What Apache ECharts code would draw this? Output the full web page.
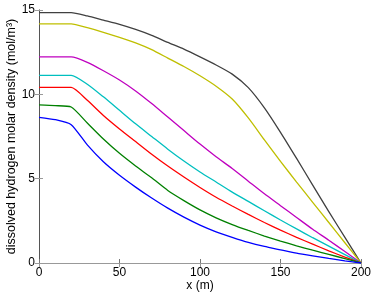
<!DOCTYPE html>
<html><head><meta charset="utf-8">
<script src="https://cdn.jsdelivr.net/npm/echarts@6/dist/echarts.min.js"></script>
<style>html,body{margin:0;padding:0;background:#fff}#c{width:374px;height:294px}</style>
</head><body><div id="c"></div>
<script>
const xPositions  = [0, 10, 20, 30, 40, 50, 60, 70, 80, 90, 100, 110, 120, 130, 140, 150, 160, 170, 180, 190, 200];
const blackVals   = [14.85, 14.85, 14.85, 14.65, 14.40, 14.15, 13.85, 13.50, 13.08, 12.68, 12.22, 11.74, 11.20, 10.40, 9.20, 7.75, 6.20, 4.62, 3.05, 1.52, 0];
const yellowVals  = [14.18, 14.18, 14.18, 13.95, 13.68, 13.38, 13.05, 12.65, 12.15, 11.65, 11.10, 10.48, 9.72, 8.60, 7.30, 6.02, 4.80, 3.60, 2.40, 1.20, 0];
const magentaVals = [12.22, 12.22, 12.22, 11.90, 11.40, 10.85, 10.20, 9.45, 8.65, 7.85, 7.05, 6.30, 5.60, 4.85, 4.10, 3.40, 2.70, 2.00, 1.35, 0.68, 0];
const cyanVals    = [11.12, 11.12, 11.12, 10.60, 9.85, 9.05, 8.25, 7.50, 6.75, 6.05, 5.40, 4.80, 4.20, 3.65, 3.10, 2.55, 2.02, 1.50, 1.00, 0.50, 0];
const redVals     = [10.41, 10.41, 10.41, 9.65, 8.75, 7.95, 7.20, 6.45, 5.75, 5.10, 4.48, 3.90, 3.38, 2.88, 2.40, 1.95, 1.52, 1.12, 0.72, 0.35, 0];
const greenVals   = [9.37, 9.33, 9.25, 8.30, 7.35, 6.50, 5.75, 5.05, 4.30, 3.70, 3.15, 2.68, 2.28, 1.93, 1.60, 1.30, 1.02, 0.76, 0.51, 0.26, 0];
const blueVals    = [8.64, 8.50, 8.20, 7.00, 6.00, 5.20, 4.50, 3.85, 3.25, 2.72, 2.25, 1.85, 1.52, 1.22, 0.98, 0.78, 0.58, 0.42, 0.27, 0.13, 0];
const xTicks = [0, 50, 100, 150, 200];
const yTicks = [0, 5, 10, 15];

const seriesDefs = [
  ['#404040', blackVals], ['#bfbf00', yellowVals], ['#bf00bf', magentaVals],
  ['#00bfbf', cyanVals], ['#ff0000', redVals], ['#008000', greenVals], ['#0000ff', blueVals]
];
const font = 'Liberation Sans, Arial, Helvetica, sans-serif';
const chart = echarts.init(document.getElementById('c'), null, {renderer: 'canvas'});
chart.setOption({
  animation: false,
  grid: {left: 39, right: 13, top: 10, bottom: 31, containLabel: false, outerBoundsMode: 'none'},
  xAxis: [
    {type: 'value', min: 0, max: 200, interval: 50, position: 'bottom',
     axisLine: {show: true, lineStyle: {color: '#222', width: 1}},
     axisTick: {inside: true, length: 4, lineStyle: {color: '#777'}},
     splitLine: {show: false},
     axisLabel: {fontFamily: font, fontSize: 12, color: '#000', margin: 4},
     name: 'x (m)', nameLocation: 'middle', nameGap: 17, nameMoveOverlap: false,
     nameTextStyle: {fontFamily: font, fontSize: 12, color: '#000'}},
    {type: 'value', min: 0, max: 200, interval: 50, position: 'top',
     axisLine: {show: true, lineStyle: {color: '#999', width: 1}},
     axisTick: {inside: true, length: 4, lineStyle: {color: '#999'}},
     axisLabel: {show: false}, splitLine: {show: false}}
  ],
  yAxis: [
    {type: 'value', min: 0, max: 15, interval: 5, position: 'left',
     axisLine: {show: true, lineStyle: {color: '#999', width: 1}},
     axisTick: {inside: true, length: 4, lineStyle: {color: '#999'}},
     splitLine: {show: false},
     axisLabel: {fontFamily: font, fontSize: 12, color: '#000', margin: 4},
     name: 'dissolved hydrogen molar density (mol/m³)', nameLocation: 'middle', nameGap: 21,
     nameMoveOverlap: false,
     nameTextStyle: {fontFamily: font, fontSize: 12.5, color: '#000'}},
    {type: 'value', min: 0, max: 15, interval: 5, position: 'right',
     axisLine: {show: true, lineStyle: {color: '#555', width: 1}},
     axisTick: {inside: true, length: 4, lineStyle: {color: '#999'}},
     axisLabel: {show: false}, splitLine: {show: false}}
  ],
  series: seriesDefs.map(([color, vals]) => ({
    type: 'line', xAxisIndex: 0, yAxisIndex: 0,
    data: xPositions.map((x, i) => [x, vals[i]]),
    showSymbol: false, smooth: 0.2,
    lineStyle: {color: color, width: 1.3}, itemStyle: {color: color}
  }))
});
</script></body></html>
